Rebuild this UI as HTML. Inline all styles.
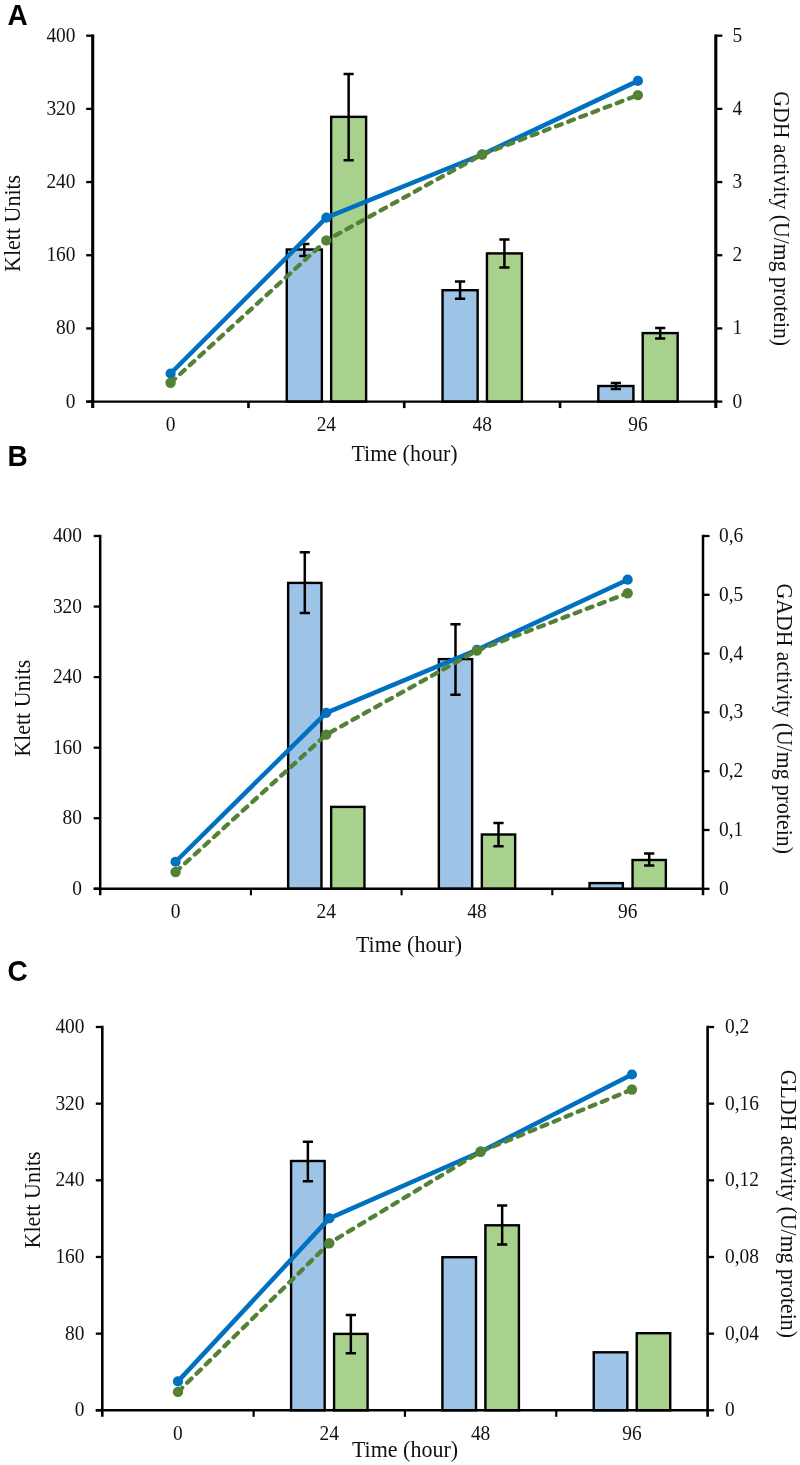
<!DOCTYPE html>
<html><head><meta charset="utf-8"><title>Figure</title>
<style>
html,body{margin:0;padding:0;background:#fff;}
svg{display:block;will-change:transform;}
.tk{font-family:"Liberation Serif",serif;font-size:19.4px;fill:#111;}
.tt{font-family:"Liberation Serif",serif;font-size:22.0px;fill:#111;}
.rt{font-family:"Liberation Serif",serif;font-size:21.8px;fill:#111;}
.pl{font-family:"Liberation Sans",sans-serif;font-weight:bold;font-size:28px;fill:#000;}
</style></head>
<body>
<svg width="800" height="1465" viewBox="0 0 800 1465">
<rect width="800" height="1465" fill="#fff"/>
<rect x="286.76" y="249.50" width="35.10" height="152.10" fill="#9DC3E6" stroke="#000" stroke-width="2.4"/>
<rect x="331.16" y="116.85" width="34.95" height="284.75" fill="#A9D18E" stroke="#000" stroke-width="2.4"/>
<rect x="442.54" y="290.20" width="35.10" height="111.40" fill="#9DC3E6" stroke="#000" stroke-width="2.4"/>
<rect x="486.94" y="253.40" width="34.95" height="148.20" fill="#A9D18E" stroke="#000" stroke-width="2.4"/>
<rect x="598.31" y="386.00" width="35.10" height="15.60" fill="#9DC3E6" stroke="#000" stroke-width="2.4"/>
<rect x="642.71" y="333.10" width="34.95" height="68.50" fill="#A9D18E" stroke="#000" stroke-width="2.4"/>
<path d="M304.31 244.00V256.00M299.21 244.00H309.41M299.21 256.00H309.41" stroke="#000" stroke-width="2.5" fill="none"/>
<path d="M348.64 73.90V160.30M343.54 73.90H353.74M343.54 160.30H353.74" stroke="#000" stroke-width="2.5" fill="none"/>
<path d="M460.09 281.40V298.80M454.99 281.40H465.19M454.99 298.80H465.19" stroke="#000" stroke-width="2.5" fill="none"/>
<path d="M504.41 239.60V267.40M499.31 239.60H509.51M499.31 267.40H509.51" stroke="#000" stroke-width="2.5" fill="none"/>
<path d="M615.86 383.10V389.10M610.76 383.10H620.96M610.76 389.10H620.96" stroke="#000" stroke-width="2.5" fill="none"/>
<path d="M660.19 328.00V338.50M655.09 328.00H665.29M655.09 338.50H665.29" stroke="#000" stroke-width="2.5" fill="none"/>
<path d="M92.70 34.55V408.10" stroke="#000" stroke-width="3.1" fill="none"/>
<path d="M715.80 34.55V408.10" stroke="#000" stroke-width="3.1" fill="none"/>
<path d="M86.20 401.60H715.80" stroke="#000" stroke-width="2.3" fill="none"/>
<path d="M248.47 401.60V408.10" stroke="#000" stroke-width="2.63" fill="none"/>
<path d="M404.25 401.60V408.10" stroke="#000" stroke-width="2.63" fill="none"/>
<path d="M560.02 401.60V408.10" stroke="#000" stroke-width="2.63" fill="none"/>
<path d="M86.20 401.60H92.70" stroke="#000" stroke-width="2.3" fill="none"/>
<text transform="translate(75.50 407.60) scale(1 1.05)" text-anchor="end" class="tk">0</text>
<path d="M86.20 328.42H92.70" stroke="#000" stroke-width="2.3" fill="none"/>
<text transform="translate(75.50 334.42) scale(1 1.05)" text-anchor="end" class="tk">80</text>
<path d="M86.20 255.24H92.70" stroke="#000" stroke-width="2.3" fill="none"/>
<text transform="translate(75.50 261.24) scale(1 1.05)" text-anchor="end" class="tk">160</text>
<path d="M86.20 182.06H92.70" stroke="#000" stroke-width="2.3" fill="none"/>
<text transform="translate(75.50 188.06) scale(1 1.05)" text-anchor="end" class="tk">240</text>
<path d="M86.20 108.88H92.70" stroke="#000" stroke-width="2.3" fill="none"/>
<text transform="translate(75.50 114.88) scale(1 1.05)" text-anchor="end" class="tk">320</text>
<path d="M86.20 35.70H92.70" stroke="#000" stroke-width="2.3" fill="none"/>
<text transform="translate(75.50 41.70) scale(1 1.05)" text-anchor="end" class="tk">400</text>
<path d="M715.80 401.60H722.30" stroke="#000" stroke-width="2.3" fill="none"/>
<text transform="translate(732.50 407.60) scale(1 1.05)" class="tk">0</text>
<path d="M715.80 328.42H722.30" stroke="#000" stroke-width="2.3" fill="none"/>
<text transform="translate(732.50 334.42) scale(1 1.05)" class="tk">1</text>
<path d="M715.80 255.24H722.30" stroke="#000" stroke-width="2.3" fill="none"/>
<text transform="translate(732.50 261.24) scale(1 1.05)" class="tk">2</text>
<path d="M715.80 182.06H722.30" stroke="#000" stroke-width="2.3" fill="none"/>
<text transform="translate(732.50 188.06) scale(1 1.05)" class="tk">3</text>
<path d="M715.80 108.88H722.30" stroke="#000" stroke-width="2.3" fill="none"/>
<text transform="translate(732.50 114.88) scale(1 1.05)" class="tk">4</text>
<path d="M715.80 35.70H722.30" stroke="#000" stroke-width="2.3" fill="none"/>
<text transform="translate(732.50 41.70) scale(1 1.05)" class="tk">5</text>
<text transform="translate(170.59 430.50) scale(1 1.05)" text-anchor="middle" class="tk">0</text>
<text transform="translate(326.36 430.50) scale(1 1.05)" text-anchor="middle" class="tk">24</text>
<text transform="translate(482.14 430.50) scale(1 1.05)" text-anchor="middle" class="tk">48</text>
<text transform="translate(637.91 430.50) scale(1 1.05)" text-anchor="middle" class="tk">96</text>
<polyline points="170.59,373.50 326.36,217.70 482.14,154.50 637.91,80.90" fill="none" stroke="#0070C0" stroke-width="4.5" stroke-linejoin="round"/>
<circle cx="170.59" cy="373.50" r="5.1" fill="#0070C0"/>
<circle cx="326.36" cy="217.70" r="5.1" fill="#0070C0"/>
<circle cx="482.14" cy="154.50" r="5.1" fill="#0070C0"/>
<circle cx="637.91" cy="80.90" r="5.1" fill="#0070C0"/>
<polyline points="170.59,382.75 326.36,240.40 482.14,154.50 637.91,95.10" fill="none" stroke="#538135" stroke-width="4.3" stroke-dasharray="6 7" stroke-linecap="round" stroke-linejoin="round"/>
<circle cx="170.59" cy="382.75" r="5.2" fill="#538135"/>
<circle cx="326.36" cy="240.40" r="5.2" fill="#538135"/>
<circle cx="482.14" cy="154.50" r="5.2" fill="#538135"/>
<circle cx="637.91" cy="95.10" r="5.2" fill="#538135"/>
<text transform="translate(404.50 461.20) scale(1 1.05)" text-anchor="middle" class="tt">Time (hour)</text>
<text transform="translate(20.00 223.40) rotate(-90) scale(1 1.05)" text-anchor="middle" class="tt">Klett Units</text>
<text transform="translate(774.10 218.70) rotate(90) scale(1 1.1)" text-anchor="middle" class="rt">GDH activity (U/mg protein)</text>
<text transform="translate(7.50 24.50) scale(1 1.08)" class="pl">A</text>
<rect x="288.15" y="582.90" width="33.30" height="305.90" fill="#9DC3E6" stroke="#000" stroke-width="2.4"/>
<rect x="331.15" y="806.90" width="33.30" height="81.90" fill="#A9D18E" stroke="#000" stroke-width="2.4"/>
<rect x="438.85" y="659.10" width="33.30" height="229.70" fill="#9DC3E6" stroke="#000" stroke-width="2.4"/>
<rect x="481.85" y="834.50" width="33.30" height="54.30" fill="#A9D18E" stroke="#000" stroke-width="2.4"/>
<rect x="589.55" y="883.10" width="33.30" height="5.70" fill="#9DC3E6" stroke="#000" stroke-width="2.4"/>
<rect x="632.55" y="860.00" width="33.30" height="28.80" fill="#A9D18E" stroke="#000" stroke-width="2.4"/>
<path d="M304.80 552.30V613.00M299.70 552.30H309.90M299.70 613.00H309.90" stroke="#000" stroke-width="2.5" fill="none"/>
<path d="M455.50 624.30V694.70M450.40 624.30H460.60M450.40 694.70H460.60" stroke="#000" stroke-width="2.5" fill="none"/>
<path d="M498.50 822.90V846.30M493.40 822.90H503.60M493.40 846.30H503.60" stroke="#000" stroke-width="2.5" fill="none"/>
<path d="M649.20 853.50V865.60M644.10 853.50H654.30M644.10 865.60H654.30" stroke="#000" stroke-width="2.5" fill="none"/>
<path d="M100.20 534.85V895.30" stroke="#000" stroke-width="2.5" fill="none"/>
<path d="M703.00 534.85V895.30" stroke="#000" stroke-width="2.5" fill="none"/>
<path d="M93.70 888.80H703.00" stroke="#000" stroke-width="2.4" fill="none"/>
<path d="M250.90 888.80V895.30" stroke="#000" stroke-width="2.12" fill="none"/>
<path d="M401.60 888.80V895.30" stroke="#000" stroke-width="2.12" fill="none"/>
<path d="M552.30 888.80V895.30" stroke="#000" stroke-width="2.12" fill="none"/>
<path d="M93.70 888.80H100.20" stroke="#000" stroke-width="2.3" fill="none"/>
<text transform="translate(82.00 894.80) scale(1 1.05)" text-anchor="end" class="tk">0</text>
<path d="M93.70 818.24H100.20" stroke="#000" stroke-width="2.3" fill="none"/>
<text transform="translate(82.00 824.24) scale(1 1.05)" text-anchor="end" class="tk">80</text>
<path d="M93.70 747.68H100.20" stroke="#000" stroke-width="2.3" fill="none"/>
<text transform="translate(82.00 753.68) scale(1 1.05)" text-anchor="end" class="tk">160</text>
<path d="M93.70 677.12H100.20" stroke="#000" stroke-width="2.3" fill="none"/>
<text transform="translate(82.00 683.12) scale(1 1.05)" text-anchor="end" class="tk">240</text>
<path d="M93.70 606.56H100.20" stroke="#000" stroke-width="2.3" fill="none"/>
<text transform="translate(82.00 612.56) scale(1 1.05)" text-anchor="end" class="tk">320</text>
<path d="M93.70 536.00H100.20" stroke="#000" stroke-width="2.3" fill="none"/>
<text transform="translate(82.00 542.00) scale(1 1.05)" text-anchor="end" class="tk">400</text>
<path d="M703.00 888.80H709.50" stroke="#000" stroke-width="2.3" fill="none"/>
<text transform="translate(719.00 894.80) scale(1 1.05)" class="tk">0</text>
<path d="M703.00 830.00H709.50" stroke="#000" stroke-width="2.3" fill="none"/>
<text transform="translate(719.00 836.00) scale(1 1.05)" class="tk">0,1</text>
<path d="M703.00 771.20H709.50" stroke="#000" stroke-width="2.3" fill="none"/>
<text transform="translate(719.00 777.20) scale(1 1.05)" class="tk">0,2</text>
<path d="M703.00 712.40H709.50" stroke="#000" stroke-width="2.3" fill="none"/>
<text transform="translate(719.00 718.40) scale(1 1.05)" class="tk">0,3</text>
<path d="M703.00 653.60H709.50" stroke="#000" stroke-width="2.3" fill="none"/>
<text transform="translate(719.00 659.60) scale(1 1.05)" class="tk">0,4</text>
<path d="M703.00 594.80H709.50" stroke="#000" stroke-width="2.3" fill="none"/>
<text transform="translate(719.00 600.80) scale(1 1.05)" class="tk">0,5</text>
<path d="M703.00 536.00H709.50" stroke="#000" stroke-width="2.3" fill="none"/>
<text transform="translate(719.00 542.00) scale(1 1.05)" class="tk">0,6</text>
<text transform="translate(175.55 918.00) scale(1 1.05)" text-anchor="middle" class="tk">0</text>
<text transform="translate(326.25 918.00) scale(1 1.05)" text-anchor="middle" class="tk">24</text>
<text transform="translate(476.95 918.00) scale(1 1.05)" text-anchor="middle" class="tk">48</text>
<text transform="translate(627.65 918.00) scale(1 1.05)" text-anchor="middle" class="tk">96</text>
<polyline points="175.55,861.75 326.25,712.80 476.95,649.90 627.65,579.70" fill="none" stroke="#0070C0" stroke-width="4.5" stroke-linejoin="round"/>
<circle cx="175.55" cy="861.75" r="5.1" fill="#0070C0"/>
<circle cx="326.25" cy="712.80" r="5.1" fill="#0070C0"/>
<circle cx="476.95" cy="649.90" r="5.1" fill="#0070C0"/>
<circle cx="627.65" cy="579.70" r="5.1" fill="#0070C0"/>
<polyline points="175.55,872.00 326.25,734.60 476.95,650.60 627.65,593.20" fill="none" stroke="#538135" stroke-width="4.3" stroke-dasharray="6 7" stroke-linecap="round" stroke-linejoin="round"/>
<circle cx="175.55" cy="872.00" r="5.2" fill="#538135"/>
<circle cx="326.25" cy="734.60" r="5.2" fill="#538135"/>
<circle cx="476.95" cy="650.60" r="5.2" fill="#538135"/>
<circle cx="627.65" cy="593.20" r="5.2" fill="#538135"/>
<text transform="translate(409.00 952.00) scale(1 1.05)" text-anchor="middle" class="tt">Time (hour)</text>
<text transform="translate(29.90 708.20) rotate(-90) scale(1 1.05)" text-anchor="middle" class="tt">Klett Units</text>
<text transform="translate(777.00 718.70) rotate(90) scale(1 1.1)" text-anchor="middle" class="rt">GADH activity (U/mg protein)</text>
<text transform="translate(7.50 465.50) scale(1 1.08)" class="pl">B</text>
<rect x="291.09" y="1161.00" width="33.60" height="249.30" fill="#9DC3E6" stroke="#000" stroke-width="2.4"/>
<rect x="334.09" y="1333.90" width="33.50" height="76.40" fill="#A9D18E" stroke="#000" stroke-width="2.4"/>
<rect x="442.41" y="1257.20" width="33.60" height="153.10" fill="#9DC3E6" stroke="#000" stroke-width="2.4"/>
<rect x="485.41" y="1225.30" width="33.50" height="185.00" fill="#A9D18E" stroke="#000" stroke-width="2.4"/>
<rect x="593.74" y="1352.30" width="33.60" height="58.00" fill="#9DC3E6" stroke="#000" stroke-width="2.4"/>
<rect x="636.74" y="1333.20" width="33.50" height="77.10" fill="#A9D18E" stroke="#000" stroke-width="2.4"/>
<path d="M307.89 1141.80V1181.20M302.79 1141.80H312.99M302.79 1181.20H312.99" stroke="#000" stroke-width="2.5" fill="none"/>
<path d="M350.84 1315.10V1353.20M345.74 1315.10H355.94M345.74 1353.20H355.94" stroke="#000" stroke-width="2.5" fill="none"/>
<path d="M502.16 1205.50V1244.50M497.06 1205.50H507.26M497.06 1244.50H507.26" stroke="#000" stroke-width="2.5" fill="none"/>
<path d="M102.30 1025.85V1416.80" stroke="#000" stroke-width="2.6" fill="none"/>
<path d="M707.60 1025.85V1416.80" stroke="#000" stroke-width="2.6" fill="none"/>
<path d="M95.80 1410.30H707.60" stroke="#000" stroke-width="2.6" fill="none"/>
<path d="M253.62 1410.30V1416.80" stroke="#000" stroke-width="2.21" fill="none"/>
<path d="M404.95 1410.30V1416.80" stroke="#000" stroke-width="2.21" fill="none"/>
<path d="M556.27 1410.30V1416.80" stroke="#000" stroke-width="2.21" fill="none"/>
<path d="M95.80 1410.30H102.30" stroke="#000" stroke-width="2.3" fill="none"/>
<text transform="translate(84.50 1416.30) scale(1 1.05)" text-anchor="end" class="tk">0</text>
<path d="M95.80 1333.64H102.30" stroke="#000" stroke-width="2.3" fill="none"/>
<text transform="translate(84.50 1339.64) scale(1 1.05)" text-anchor="end" class="tk">80</text>
<path d="M95.80 1256.98H102.30" stroke="#000" stroke-width="2.3" fill="none"/>
<text transform="translate(84.50 1262.98) scale(1 1.05)" text-anchor="end" class="tk">160</text>
<path d="M95.80 1180.32H102.30" stroke="#000" stroke-width="2.3" fill="none"/>
<text transform="translate(84.50 1186.32) scale(1 1.05)" text-anchor="end" class="tk">240</text>
<path d="M95.80 1103.66H102.30" stroke="#000" stroke-width="2.3" fill="none"/>
<text transform="translate(84.50 1109.66) scale(1 1.05)" text-anchor="end" class="tk">320</text>
<path d="M95.80 1027.00H102.30" stroke="#000" stroke-width="2.3" fill="none"/>
<text transform="translate(84.50 1033.00) scale(1 1.05)" text-anchor="end" class="tk">400</text>
<path d="M707.60 1410.30H714.10" stroke="#000" stroke-width="2.3" fill="none"/>
<text transform="translate(725.00 1416.30) scale(1 1.05)" class="tk">0</text>
<path d="M707.60 1333.64H714.10" stroke="#000" stroke-width="2.3" fill="none"/>
<text transform="translate(725.00 1339.64) scale(1 1.05)" class="tk">0,04</text>
<path d="M707.60 1256.98H714.10" stroke="#000" stroke-width="2.3" fill="none"/>
<text transform="translate(725.00 1262.98) scale(1 1.05)" class="tk">0,08</text>
<path d="M707.60 1180.32H714.10" stroke="#000" stroke-width="2.3" fill="none"/>
<text transform="translate(725.00 1186.32) scale(1 1.05)" class="tk">0,12</text>
<path d="M707.60 1103.66H714.10" stroke="#000" stroke-width="2.3" fill="none"/>
<text transform="translate(725.00 1109.66) scale(1 1.05)" class="tk">0,16</text>
<path d="M707.60 1027.00H714.10" stroke="#000" stroke-width="2.3" fill="none"/>
<text transform="translate(725.00 1033.00) scale(1 1.05)" class="tk">0,2</text>
<text transform="translate(177.96 1439.60) scale(1 1.05)" text-anchor="middle" class="tk">0</text>
<text transform="translate(329.29 1439.60) scale(1 1.05)" text-anchor="middle" class="tk">24</text>
<text transform="translate(480.61 1439.60) scale(1 1.05)" text-anchor="middle" class="tk">48</text>
<text transform="translate(631.94 1439.60) scale(1 1.05)" text-anchor="middle" class="tk">96</text>
<polyline points="177.96,1381.40 329.29,1218.40 480.61,1151.70 631.94,1074.50" fill="none" stroke="#0070C0" stroke-width="4.5" stroke-linejoin="round"/>
<circle cx="177.96" cy="1381.40" r="5.1" fill="#0070C0"/>
<circle cx="329.29" cy="1218.40" r="5.1" fill="#0070C0"/>
<circle cx="480.61" cy="1151.70" r="5.1" fill="#0070C0"/>
<circle cx="631.94" cy="1074.50" r="5.1" fill="#0070C0"/>
<polyline points="177.96,1391.90 329.29,1243.20 480.61,1151.70 631.94,1089.50" fill="none" stroke="#538135" stroke-width="4.3" stroke-dasharray="6 7" stroke-linecap="round" stroke-linejoin="round"/>
<circle cx="177.96" cy="1391.90" r="5.2" fill="#538135"/>
<circle cx="329.29" cy="1243.20" r="5.2" fill="#538135"/>
<circle cx="480.61" cy="1151.70" r="5.2" fill="#538135"/>
<circle cx="631.94" cy="1089.50" r="5.2" fill="#538135"/>
<text transform="translate(405.00 1457.00) scale(1 1.05)" text-anchor="middle" class="tt">Time (hour)</text>
<text transform="translate(40.20 1199.90) rotate(-90) scale(1 1.05)" text-anchor="middle" class="tt">Klett Units</text>
<text transform="translate(780.80 1203.90) rotate(90) scale(1 1.1)" text-anchor="middle" class="rt">GLDH activity (U/mg protein)</text>
<text transform="translate(7.50 981.00) scale(1 1.08)" class="pl">C</text>
</svg>
</body></html>
